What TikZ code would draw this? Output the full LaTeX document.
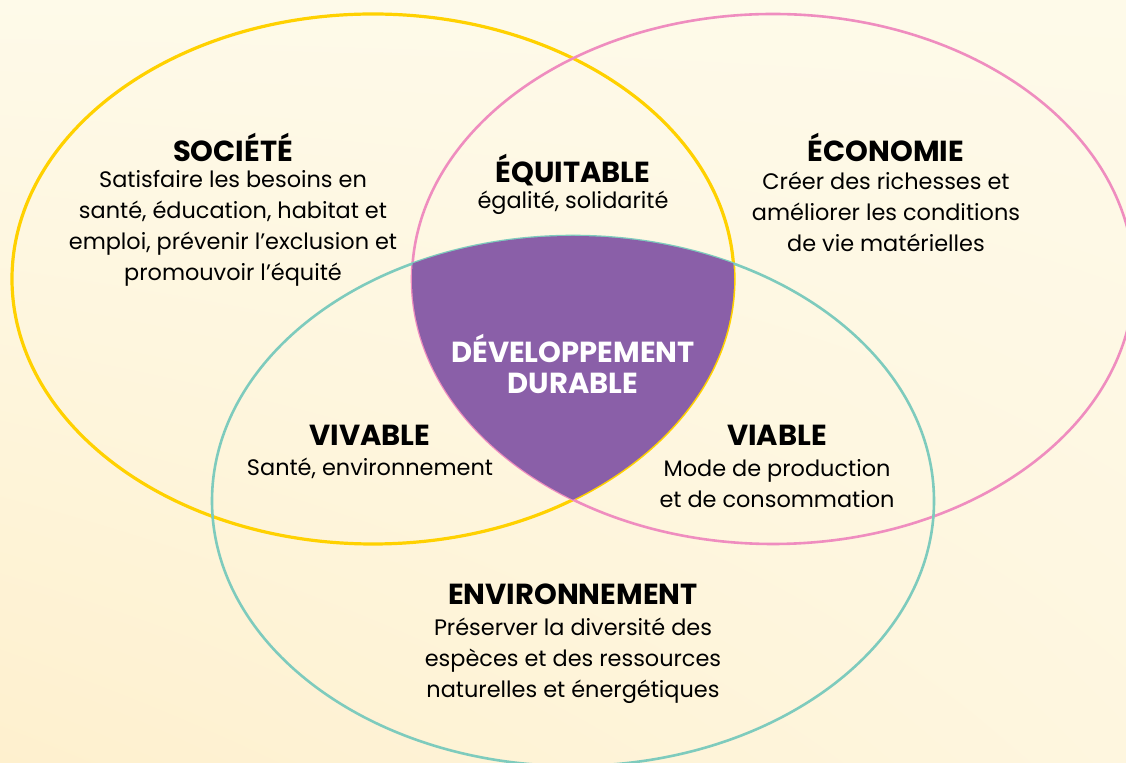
\documentclass[tikz,border=0pt]{standalone}
\usepackage{fontspec}
\setmainfont{Poppins}
\usepackage{tikz}
\usepackage{xcolor}
\usetikzlibrary{positioning, shadings}

\definecolor{jaune}{HTML}{FFD100}
\definecolor{rose}{HTML}{EF8DBF}
\definecolor{turquoise}{HTML}{7ECBBD}
\definecolor{violet}{HTML}{8A5FA8}
\definecolor{fondclair}{HTML}{FEFAE9}
\definecolor{fondmoyen}{HTML}{FEF6DF}
\definecolor{fondfonce}{HTML}{FEF0CE}

\tikzset{
  titre/.style={font=\bfseries\fontsize{14.5}{16}\selectfont, inner sep=0pt},
  texte/.style={align=center, font=\fontsize{11.2}{15.5}\selectfont, inner sep=0pt},
}

\begin{document}
\begin{tikzpicture}[x=0.5pt,y=-0.5pt] % 1 unit = 1 px of the reference
                % Background
                \useasboundingbox (0,0) rectangle (1126,763);
                \shade[upper left=fondclair, upper right=fondclair, lower left=fondfonce, lower right=fondmoyen] (0,0) rectangle (1126,763);

                % Three circles of sustainable development
                \draw[jaune, line width=1.6pt] (373,279) ellipse [x radius=361, y radius=265];
                \draw[rose, line width=1.3pt] (773,279) ellipse [x radius=361, y radius=265];
                \draw[turquoise, line width=1.3pt] (573,501) ellipse [x radius=361, y radius=265];

                % Common part of the three circles
                \begin{scope}
                    \clip (373,279) ellipse [x radius=361, y radius=265];
                    \clip (773,279) ellipse [x radius=361, y radius=265];
                    \fill[violet] (573,501) ellipse [x radius=361, y radius=265];
                \end{scope}

                % Labels
                \node[titre] (societe) at (233,147) {SOCIÉTÉ};
                \node[texte] (societeTxt) at (233,228) {Satisfaire les besoins en\\santé, éducation, habitat et\\emploi, prévenir l’exclusion et\\promouvoir l’équité};

                \node[titre] (equitable) at (573,170) {ÉQUITABLE};
                \node[texte] (equitableTxt) at (573,203) {égalité, solidarité};

                \node[titre] (economie) at (886,147) {ÉCONOMIE};
                \node[texte] (economieTxt) at (886,212) {Créer des richesses et\\améliorer les conditions\\de vie matérielles};

                \node[titre, white, align=center, font=\bfseries\fontsize{14.5}{15.5}\selectfont] (dd) at (573,364) {DÉVELOPPEMENT\\DURABLE};

                \node[titre] (vivable) at (370,435) {VIVABLE};
                \node[texte] (vivableTxt) at (370,468) {Santé, environnement};

                \node[titre] (viable) at (777,435) {VIABLE};
                \node[texte] (viableTxt) at (777,484) {Mode de production\\et de consommation};

                \node[titre] (environnement) at (573,594) {ENVIRONNEMENT};
                \node[texte] (environnementTxt) at (573,661) {Préserver la diversité des\\espèces et des ressources\\naturelles et énergétiques};
            \end{tikzpicture}
\end{document}
